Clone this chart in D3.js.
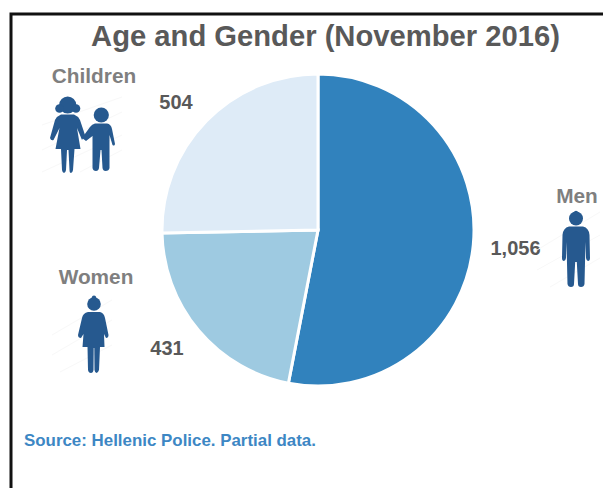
<!DOCTYPE html>
<html lang="en">
<head>
<meta charset="UTF-8">
<title>Age and Gender (November 2016)</title>
<script src="https://d3js.org/d3.v7.min.js"></script>
<style>
html, body {margin: 0; padding: 0; background: white;}
svg {display: block;}
text {font-family: "Liberation Sans", Arial, sans-serif; font-weight: bold;}
</style>
</head>
<body>
<svg width="603" height="488"></svg>
<script>
const categories = ["Men", "Women", "Children"];
const values = [1056, 431, 504];
const colors = ["#3182bd", "#9ecae1", "#deebf7"];

const svg = d3.select("svg");

// frame, only left and top are visible in the crop
svg.append("path")
    .attr("d", "M11,488 L11,14 L603,14")
    .attr("fill", "none")
    .attr("stroke", "#111")
    .attr("stroke-width", 3);

svg.append("text")
    .attr("x", 325.5).attr("y", 46)
    .attr("text-anchor", "middle")
    .attr("font-size", 29.2)
    .attr("fill", "#595959")
    .text("Age and Gender (November 2016)");

const pie = d3.pie().sort(null).value(d => d);
const arc = d3.arc().innerRadius(0).outerRadius(156);

svg.append("g")
    .attr("transform", "translate(318,230)")
    .selectAll("path")
    .data(pie(values))
    .enter()
    .append("path")
    .attr("d", arc)
    .attr("fill", (d, i) => colors[i])
    .attr("stroke", "white")
    .attr("stroke-width", 3);

// label spots, same order as categories
const nameSpots = [[577, 202.5], [96, 283.5], [94, 82.5]];
const valueSpots = [[515.5, 255], [167, 355], [176, 109]];

svg.append("g").selectAll("text")
    .data(categories)
    .enter()
    .append("text")
    .attr("x", (d, i) => nameSpots[i][0])
    .attr("y", (d, i) => nameSpots[i][1])
    .attr("text-anchor", "middle")
    .attr("font-size", 20.8)
    .attr("fill", "#7f7f7f")
    .text(d => d);

svg.append("g").selectAll("text")
    .data(values)
    .enter()
    .append("text")
    .attr("x", (d, i) => valueSpots[i][0])
    .attr("y", (d, i) => valueSpots[i][1])
    .attr("text-anchor", "middle")
    .attr("font-size", 20)
    .attr("fill", "#595959")
    .text(d => d3.format(",")(d));

svg.append("text")
    .attr("x", 24).attr("y", 446)
    .attr("font-size", 16.9)
    .attr("fill", "#3d87c4")
    .text("Source: Hellenic Police. Partial data.");

// faint diagonal lines behind the icons
const hatch = [
    [42, 125, 122, 97], [42, 150, 122, 112], [42, 172, 122, 135],
    [80, 172, 122, 150],
    [52, 335, 112, 300], [52, 355, 112, 320], [60, 372, 112, 345],
    [537, 250, 600, 212], [537, 270, 600, 235], [550, 287, 600, 258]
];
svg.append("g").selectAll("line")
    .data(hatch)
    .enter()
    .append("line")
    .attr("x1", d => d[0]).attr("y1", d => d[1])
    .attr("x2", d => d[2]).attr("y2", d => d[3])
    .attr("stroke", "#f8f8f8")
    .attr("stroke-width", 1);

// people icons
const iconBlue = "#26598f";
const icons = svg.append("g").attr("fill", iconBlue);

// man
icons.append("circle").attr("cx", 576).attr("cy", 218.5).attr("r", 7);
icons.append("circle").attr("cx", 576).attr("cy", 212.8).attr("r", 2);
icons.append("path").attr("d", "M569,226.5 L583,226.5 Q589,228 589.5,235 L590,258 Q590,261 588,261 Q586.5,261 586,258 L585.5,242 L584.5,284 Q584,287 581,287 Q578,287 578,284 L576.8,262 L575.2,262 L574,284 Q574,287 571,287 Q568,287 567.5,284 L566.5,242 L566,258 Q565.5,261 564,261 Q562,261 562,258 L562.5,235 Q563,228 569,226.5Z");

// woman
icons.append("circle").attr("cx", 94).attr("cy", 304).attr("r", 6.8);
icons.append("circle").attr("cx", 94).attr("cy", 297.8).attr("r", 2.2);
icons.append("path").attr("d", "M88,312 L100,312 Q104,313 105,318 L108.5,335 Q108.5,338 106,338 L104,334 L104.5,347 L100,347 L99,370 Q98,373 96.5,373 Q95,373 94.5,370 L94.3,348 L93.7,348 L93.5,370 Q93,373 91,373 Q88.5,373 88,370 L87.5,347 L82.5,347 L83.5,334 L81,338 Q78,338 78,335 L82,318 Q83,313 88,312Z");

// girl
icons.append("circle").attr("cx", 67.7).attr("cy", 105).attr("r", 8.6);
icons.append("circle").attr("cx", 59.5).attr("cy", 108.5).attr("r", 4.3);
icons.append("circle").attr("cx", 76).attr("cy", 108.5).attr("r", 4.3);
icons.append("path").attr("d", "M61,114.5 L74,114.5 Q78,116 80,120 L85,135 L82,140 L77,128 L80.5,149 L74.5,149 L73,170 Q72.5,173 71,173 Q69.5,173 69.5,170 L68.5,150 L67,150 L66,170 Q65.5,173 64,173 Q62.5,173 62,170 L61,149 L55.5,149 L59.5,128 L53.5,140 Q51,141 50,138 L55,120 Q57,116 61,114.5Z");

// boy
icons.append("circle").attr("cx", 101.3).attr("cy", 115).attr("r", 7.6);
icons.append("path").attr("d", "M95,123.5 L107,123.5 Q111,124 112,129 L115,144 Q114.5,146.5 112.5,145 L109.5,135 L109.5,168 Q109,171 105.5,171 Q103,171 102.5,168 L101.5,150 L100.5,150 L99,168 Q98.5,171 96,171 Q93,171 92.5,168 L92.5,136 L86,141 L82,138 L90,127 Q92,124 95,123.5Z");
</script>
</body>
</html>
